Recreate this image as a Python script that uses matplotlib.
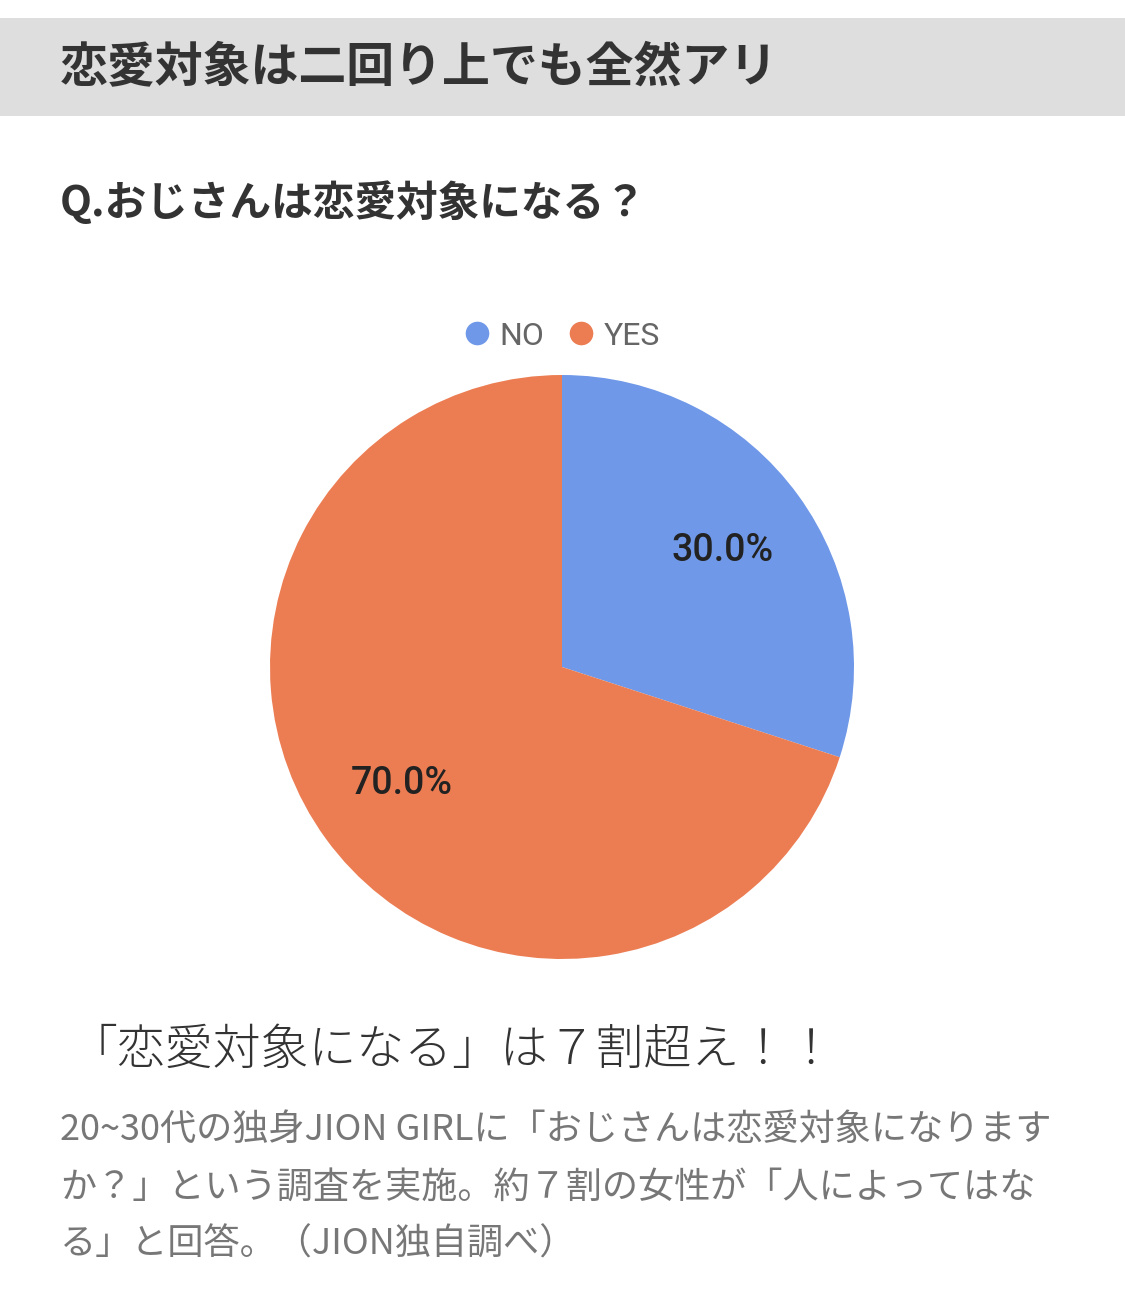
import matplotlib
matplotlib.use("Agg")
import matplotlib.pyplot as plt
from matplotlib.lines import Line2D
from matplotlib.patches import Rectangle

plt.rcParams["font.family"] = ["Noto Sans CJK JP", "DejaVu Sans"]

# data
labels = ["NO", "YES"]
shares = [30.0, 70.0]
colours = ["#6f98e8", "#ec7d53"]

header_title = "恋愛対象は二回り上でも全然アリ"
question = "Q.おじさんは恋愛対象になる？"
headline = "「恋愛対象になる」は７割超え！！"
body_lines = [
    "20~30代の独身JION GIRLに「おじさんは恋愛対象になります",
    "か？」という調査を実施。約７割の女性が「人によってはな",
    "る」と回答。（JION独自調べ）",
]

W, H = 1125, 1300
fig = plt.figure(figsize=(W / 100, H / 100), dpi=100)
fig.patch.set_facecolor("white")


def fy(py):
    return 1 - py / H


def fx(px):
    return px / W


# grey header band
fig.patches.append(Rectangle((0, fy(116)), 1, (116 - 18) / H, transform=fig.transFigure,
                             facecolor="#dedede", edgecolor="none"))
fig.text(fx(60), fy(67), header_title, fontsize=34.5, fontweight="bold",
         color="#333333", va="center", ha="left")
fig.text(fx(60), fy(203), question, fontsize=30, fontweight="bold",
         color="#333333", va="center", ha="left")

# pie
cx, cy, r = 562, 667, 292
ax = fig.add_axes([fx(cx - r), fy(cy + r), 2 * r / W, 2 * r / H])
wedges, texts, autotexts = ax.pie(
    shares, colors=colours, startangle=90, counterclock=False,
    autopct="%.1f%%", pctdistance=0.68, radius=1,
    wedgeprops=dict(linewidth=0),
    textprops=dict(fontsize=27, color="#222222", fontweight="medium",
                   family=["Roboto", "DejaVu Sans"]),
)
ax.set_xlim(-1, 1)
ax.set_ylim(-1, 1)
ax.set_aspect("equal")
ax.axis("off")

# legend
handles = [Line2D([], [], marker="o", linestyle="none", markersize=17,
                  markerfacecolor=c, markeredgecolor="none") for c in colours]
fig.legend(handles, labels, loc="center", bbox_to_anchor=(fx(562), fy(336)),
           ncol=2, frameon=False, handletextpad=0.3, columnspacing=0.75,
           prop=dict(family=["Roboto", "DejaVu Sans"], size=23),
           labelcolor="#666666", handlelength=0.8)

# bottom texts
fig.text(fx(70), fy(1050), headline, fontsize=34.5, color="#333333",
         va="center", ha="left", fontweight="light")
for i, line in enumerate(body_lines):
    fig.text(fx(60), fy(1130 + i * 57.5), line, fontsize=26, color="#777777",
             va="center", ha="left")

fig.savefig("out.png", dpi=100, facecolor="white")
